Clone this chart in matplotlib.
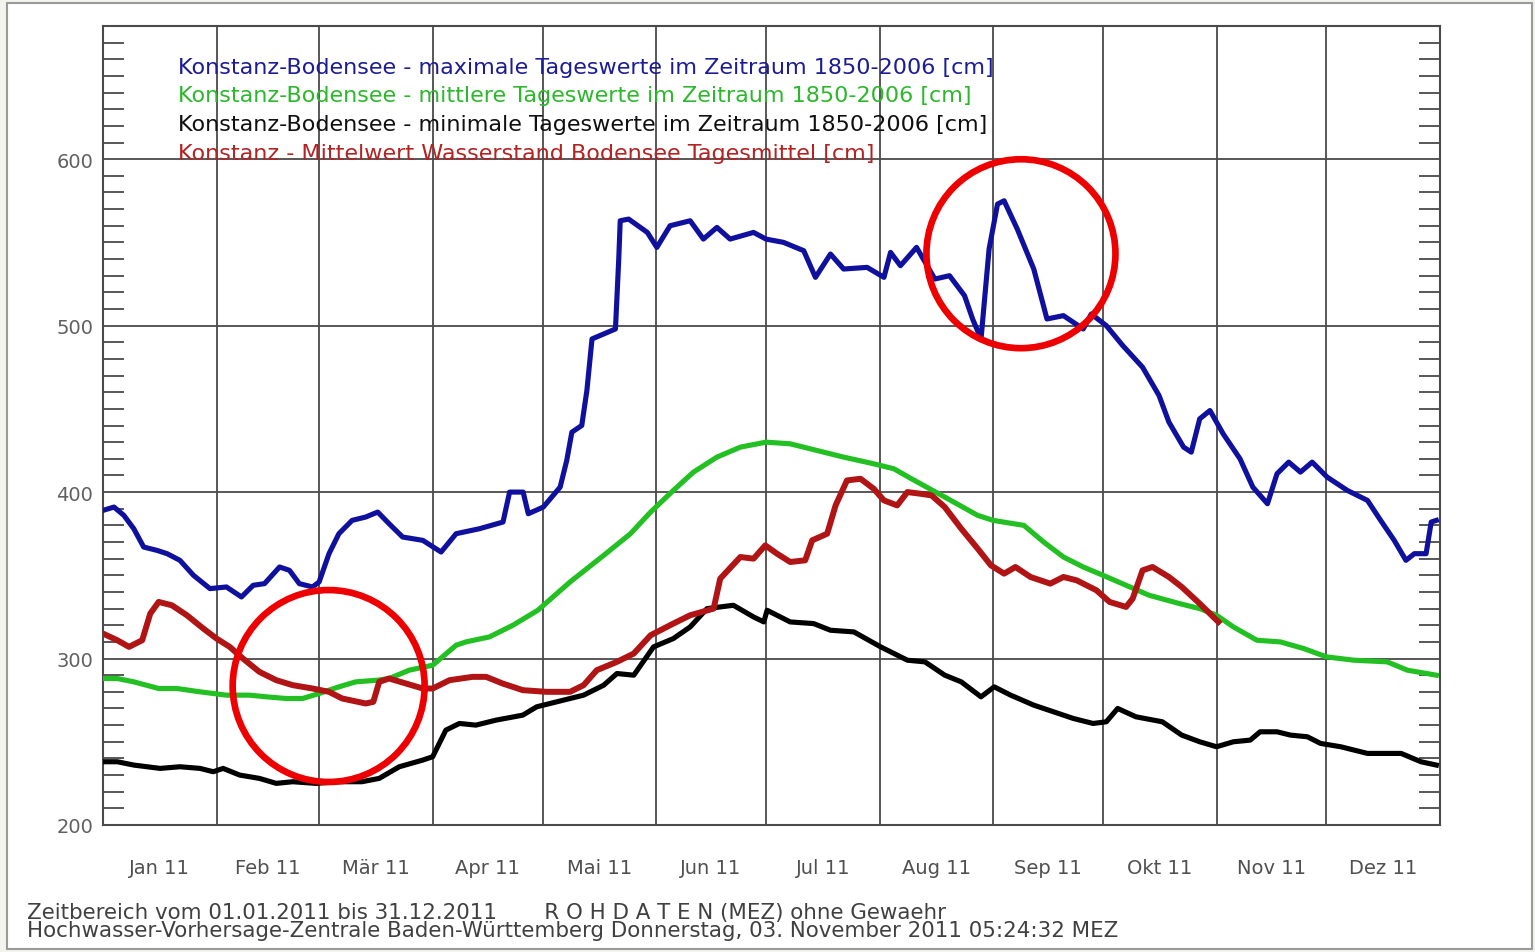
import matplotlib
matplotlib.use("Agg")
import matplotlib.pyplot as plt
from matplotlib.patches import Ellipse, Rectangle
from matplotlib.ticker import MultipleLocator

# day of year (0 = 1 Jan 2011) and water level [cm]
max_days = [0, 3, 5.7, 8.4, 11.1, 14.7, 17.5, 21, 24.7, 29.2, 33.7, 37.8, 41, 44.1, 48.2, 50.9,
            53.6, 57.2, 59, 61.7, 64.4, 68, 71.7, 75, 78.1, 81.8, 87.3, 92.3, 96.4, 102.8, 109.2,
            111, 114.7, 116.1, 120.2, 124.8, 126.6, 128, 130.7, 132.1, 133.5, 136.7, 139.9,
            140.8, 141.2, 143.5, 148.6, 151.2, 154.8, 160.3, 163.9, 167.6, 171.2, 177.6, 181,
            185.8, 191.3, 194.5, 198.6, 202.2, 208.6, 213.2, 215, 217.7, 222.1, 227.1, 231.1,
            235.2, 237.4, 239.7, 241.9, 244.2, 246, 249.6, 254.1, 257.7, 262.2, 267.6, 269.8,
            273.9, 278.4, 283.8, 288.3, 291, 295, 297.1, 299.4, 302.2, 305.8, 310.4, 313.9,
            317.9, 320.5, 323.7, 326.9, 330.1, 334.2, 339.7, 345.2, 348.8, 352.5, 355.7, 358,
            361.2, 362.6, 364]
max_vals = [389, 391, 386, 378, 367, 365, 363, 359, 350, 342, 343, 337, 344, 345, 355, 353,
            345, 343, 346, 363, 375, 383, 385, 388, 381, 373, 371, 364, 375, 378, 382,
            400, 400, 387, 391, 403, 419, 436, 440, 461, 492, 495, 498,
            540, 563, 564, 556, 547, 560, 563, 552, 559, 552, 556, 552,
            550, 545, 529, 543, 534, 535, 529, 544, 536, 547, 528, 530,
            518, 504, 492, 546, 573, 575, 558, 534, 504, 506, 498, 507,
            500, 488, 475, 458, 442, 427, 424, 444, 449, 435, 420, 403,
            393, 411, 418, 412, 418, 409, 401, 395, 383, 371, 359, 363,
            363, 382, 383]

mean_days = [0, 3.9, 8.4, 15.2, 20.2, 26.5, 33.7, 40, 44.6, 50, 54.5, 59, 64.4, 69, 75,
             78.1, 83.6, 90, 96.4, 99.1, 105.5, 111.9, 118.7, 127.5, 136.7, 144, 149.5, 155.7,
             161.2, 167.6, 174, 181, 187.6, 194.9, 202.2, 210.4, 215.9, 220.7, 229.8, 238.8,
             243, 251.4, 256.8, 262.2, 267.6, 273, 279.3, 285.6, 293.9, 299.4, 304, 308.6,
             315, 321.4, 327.8, 334, 341.5, 350.6, 356.1, 364]
mean_vals = [288, 288, 286, 282, 282, 280, 278, 278, 277, 276, 276, 279, 283, 286, 287,
             288, 293, 296, 308, 310, 313, 320, 329, 346, 362, 375, 388, 401,
             412, 421, 427, 430, 429, 425, 421, 417, 414, 408, 397, 386,
             383, 380, 370, 361, 355, 350, 344, 338, 333, 330, 326, 319,
             311, 310, 306, 301, 299, 298, 293, 290]

min_days = [0, 3.9, 8.4, 15.6, 21, 26.5, 30.1, 32.8, 37.3, 42.7, 47.3, 51.8, 58.1, 64.4,
            70.7, 75.4, 80.9, 87.3, 90, 93.6, 97.3, 101.8, 107.3, 114.6, 118.4, 125.7, 131.2,
            136.7, 140.3, 144.9, 150.3, 155.7, 160.3, 164.9, 172.1, 177.6, 180.4, 181.3,
            187.6, 194, 198.6, 205, 212.3, 219.6, 224.4, 229.8, 234.3, 239.7, 243.3, 247.8,
            254.1, 259.5, 264.9, 270.3, 273.9, 277, 282, 289.2, 294.5, 299.4, 304, 308.6,
            313.2, 315.9, 320.5, 324.2, 328.8, 332.4, 337.9, 345.2, 354.4, 359.8, 364]
min_vals = [238, 238, 236, 234, 235, 234, 232, 234, 230, 228, 225, 226, 225, 226,
            226, 228, 235, 239, 241, 257, 261, 260, 263, 266, 271, 275, 278,
            284, 291, 290, 307, 312, 319, 330, 332, 325, 322, 329,
            322, 321, 317, 316, 307, 299, 298, 290, 286, 277, 283, 278,
            272, 268, 264, 261, 262, 270, 265, 262, 254, 250, 247, 250,
            251, 256, 256, 254, 253, 249, 247, 243, 243, 238, 236]

act_days = [0, 3.9, 7.1, 10.7, 12.9, 15.2, 18.8, 22.9, 27.4, 31, 34.6, 38.2, 42.7, 47.3,
            51.8, 57.2, 61.7, 65.3, 71.7, 73.8, 75.4, 78.1, 82.7, 87.3, 90, 94.6, 100.9,
            104.6, 109.1, 114.6, 121.1, 127.5, 131.2, 134.8, 140.3, 144.9, 149.5, 155.7,
            160.3, 166.7, 168.5, 174, 177.6, 180.8, 184, 187.6, 191.7, 193.6, 197.7, 200,
            203.1, 206.8, 210.4, 213.2, 216.8, 219.6, 223.2, 226.2, 229.8, 234.3, 238.8,
            242.4, 246, 249.1, 253.2, 258.6, 262.2, 265.8, 271.2, 274.8, 279.3, 281.1,
            283.8, 286.5, 291, 294.5, 299.4, 304.5]
act_vals = [315, 311, 307, 311, 327, 334, 332, 326, 318, 312, 307, 300, 292, 287,
            284, 282, 280, 276, 273, 274, 286, 288, 285, 282, 282, 287, 289,
            289, 285, 281, 280, 280, 284, 293, 298, 303, 314, 321,
            326, 330, 348, 361, 360, 368, 363, 358, 359, 371, 375, 392,
            407, 408, 402, 395, 392, 400, 399, 398, 391, 378, 366,
            356, 351, 355, 349, 345, 349, 347, 341, 334, 331, 336,
            353, 355, 349, 343, 333, 322]

month_starts = [0, 31, 59, 90, 120, 151, 181, 212, 243, 273, 304, 334, 365]
month_labels = ["Jan 11", "Feb 11", "Mär 11", "Apr 11", "Mai 11", "Jun 11",
                "Jul 11", "Aug 11", "Sep 11", "Okt 11", "Nov 11", "Dez 11"]
legend_texts = [
    "Konstanz-Bodensee - maximale Tageswerte im Zeitraum 1850-2006 [cm]",
    "Konstanz-Bodensee - mittlere Tageswerte im Zeitraum 1850-2006 [cm]",
    "Konstanz-Bodensee - minimale Tageswerte im Zeitraum 1850-2006 [cm]",
    "Konstanz - Mittelwert Wasserstand Bodensee Tagesmittel [cm]",
]
legend_colors = ["#1c1c96", "#2cb82c", "#101010", "#b42222"]

W, H = 1535, 953
fig = plt.figure(figsize=(W / 100, H / 100), dpi=100, facecolor="#f4f4ee")
fig.patches.append(Rectangle((7 / W, 1 - 950 / H), 1525 / W, 946 / H, transform=fig.transFigure,
                             facecolor="white", edgecolor="#9a9a9a", lw=1.5, zorder=-5))

ax = fig.add_axes([103 / W, 1 - 826 / H, 1337 / W, 799 / H])
ax.set_xlim(0, 365)
ax.set_ylim(200, 680)

ax.plot(max_days, max_vals, color="#10109e", lw=3.7, solid_joinstyle="round", zorder=3)
ax.plot(mean_days, mean_vals, color="#22c022", lw=3.7, solid_joinstyle="round", zorder=3)
ax.plot(min_days, min_vals, color="black", lw=3.7, solid_joinstyle="round", zorder=3)
ax.plot(act_days, act_vals, color="#b01414", lw=4.3, solid_joinstyle="round", zorder=4)

# grid
for d in month_starts[1:-1]:
    ax.axvline(d, color="#4a4a4a", lw=1.3, zorder=1)
for v in [300, 400, 500, 600]:
    ax.axhline(v, color="#4a4a4a", lw=1.3, zorder=1)

ax.set_xticks([])
ax.set_yticks([200, 300, 400, 500, 600])
ax.set_yticklabels(["200", "300", "400", "500", "600"], color="#606060", fontsize=14)
ax.yaxis.set_minor_locator(MultipleLocator(10))
ax.tick_params(axis="y", which="major", length=0, pad=7)
ax.tick_params(axis="y", which="minor", direction="in", length=15, width=1.3,
               color="#4a4a4a", left=True, right=True)
for s in ax.spines.values():
    s.set_color("#4a4a4a")
    s.set_linewidth(1.5)

for i, lab in enumerate(month_labels):
    mid = (month_starts[i] + month_starts[i + 1]) / 2
    ax.text(mid, -0.0526, lab, transform=ax.get_xaxis_transform(), ha="center", va="center",
            fontsize=14, color="#505050")

for i, (t, c) in enumerate(zip(legend_texts, legend_colors)):
    fig.text(178 / W, 1 - (68 + 28.5 * i) / H, t, color=c, fontsize=16, va="center", ha="left")

# red annotation circles
ax.add_patch(Ellipse((61.6, 283.5), 52.4, 115.3, facecolor="none", edgecolor="#ee0000",
                     lw=4.8, zorder=5, clip_on=False))
ax.add_patch(Ellipse((250.6, 543.2), 51.6, 113.5, facecolor="none", edgecolor="#ee0000",
                     lw=4.8, zorder=5, clip_on=False))

fig.text(27 / W, 1 - 913 / H,
         "Zeitbereich vom 01.01.2011 bis 31.12.2011       R O H D A T E N (MEZ) ohne Gewaehr",
         fontsize=15.4, color="#404040", va="center")
fig.text(27 / W, 1 - 931 / H,
         "Hochwasser-Vorhersage-Zentrale Baden-Württemberg Donnerstag, 03. November 2011 05:24:32 MEZ",
         fontsize=15.4, color="#404040", va="center")

fig.savefig("out.png", dpi=100, facecolor=fig.get_facecolor())
